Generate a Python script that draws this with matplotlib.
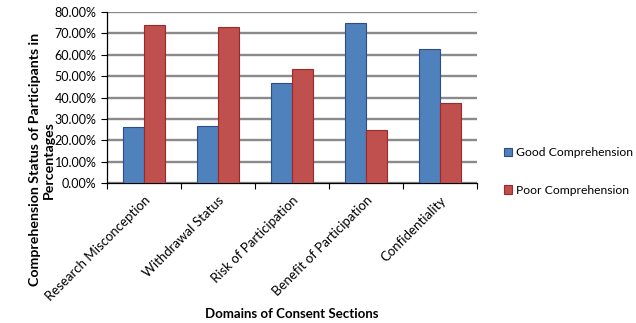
import matplotlib
matplotlib.use("Agg")
import numpy as np
import matplotlib.pyplot as plt
from matplotlib.ticker import FuncFormatter, FixedLocator

plt.rcParams['font.family'] = ['Lato', 'DejaVu Sans']

# data
domains = ["Research Misconception", "Withdrawal Status", "Risk of Participation",
           "Benefit of Participation", "Confidentiality"]
good = [26.2, 26.8, 46.7, 75.0, 62.5]
poor = [73.8, 73.2, 53.3, 25.0, 37.5]

blue = "#4F81BD"
red = "#C0504D"

fig = plt.figure(figsize=(6.36, 3.23), dpi=100)
ax = fig.add_axes([0.168, 0.433, 0.582, 0.53])

x = np.arange(len(domains))
w = 0.285
ax.bar(x - w / 2, good, w, color=blue, edgecolor="#2C4D8A", linewidth=0.8,
       label="Good Comprehension", zorder=3)
ax.bar(x + w / 2, poor, w, color=red, edgecolor="#9E2A27", linewidth=0.8,
       label="Poor Comprehension", zorder=3)

ax.set_xlim(-0.5, len(domains) - 0.5)
ax.set_ylim(0, 80)
ax.set_yticks(np.arange(0, 81, 10))
ax.yaxis.set_major_formatter(FuncFormatter(lambda v, p: "%.2f%%" % v))
ax.grid(axis="y", color="#8A8A8A", linewidth=1.7, zorder=0)

# category labels centred, ticks on category boundaries
ax.xaxis.set_major_locator(FixedLocator(np.arange(-0.5, len(domains), 1.0)))
ax.xaxis.set_major_formatter(FuncFormatter(lambda v, p: ""))
ax.xaxis.set_minor_locator(FixedLocator(x))
ax.set_xticklabels(domains, minor=True, rotation=45, ha="right",
                   rotation_mode="anchor", fontsize=9.5)
ax.tick_params(axis="x", which="minor", length=0, pad=8)
ax.tick_params(axis="x", which="major", length=4, direction="out", width=0.8)
ax.tick_params(axis="y", length=4, direction="out", width=0.8, labelsize=9)

for s in ["top", "right"]:
    ax.spines[s].set_visible(False)
ax.spines["left"].set_linewidth(0.9)
ax.spines["bottom"].set_linewidth(0.9)

fig.text(0.459, 0.028, "Domains of Consent Sections", fontweight="bold",
         fontsize=9.5, ha="center", va="center")
fig.text(0.066, 0.505, "Comprehension Status of Participants in\nPercentages",
         fontweight="bold", fontsize=10.2, rotation=90, ha="center", va="center",
         multialignment="center", linespacing=1.15)

leg = fig.legend(loc="center left", bbox_to_anchor=(0.792, 0.469), frameon=False,
                 fontsize=8.7, handlelength=0.7, handleheight=0.7,
                 labelspacing=2.2, handletextpad=0.35, borderaxespad=0,
                 borderpad=0)

plt.savefig("out.png", dpi=100)
